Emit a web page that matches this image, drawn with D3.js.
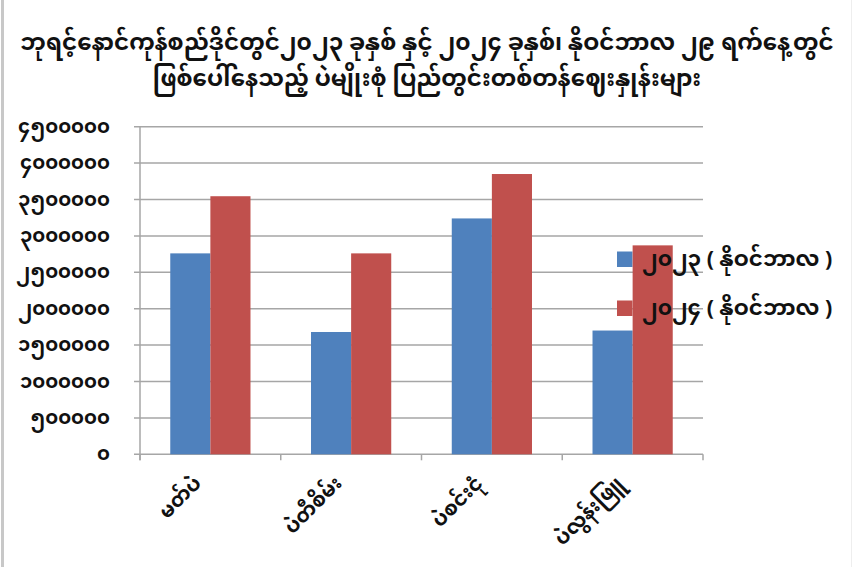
<!DOCTYPE html>
<html>
<head>
<meta charset="utf-8">
<title>ပဲမျိုးစုံ ဈေးနှုန်း</title>
<style>
  body { margin:0; background:#fff; }
  svg text { font-family: "Noto Sans Myanmar", "Padauk", "Myanmar Text", "Noto Sans", sans-serif; fill:#111; }
</style>
</head>
<body>
<div id="chart"></div>
<script src="https://d3js.org/d3.v7.min.js"></script>
<script>
// data
var titleLines = ["ဘုရင့်နောင်ကုန်စည်ဒိုင်တွင်၂၀၂၃ ခုနှစ် နှင့် ၂၀၂၄ ခုနှစ်၊ နိုဝင်ဘာလ ၂၉ ရက်နေ့တွင်",
                  "ဖြစ်ပေါ်နေသည့် ပဲမျိုးစုံ ပြည်တွင်းတစ်တန်ဈေးနှုန်းများ"];
var categories = ["မတ်ပဲ", "ပဲတီစိမ်း", "ပဲစင်းငုံ", "ပဲလွန်းဖြူ"];
var seriesNames = ["၂၀၂၃ ( နိုဝင်ဘာလ )", "၂၀၂၄ ( နိုဝင်ဘာလ )"];
var values2023 = [2760000, 1680000, 3240000, 1700000];
var values2024 = [3545000, 2760000, 3850000, 2870000];
var yTicks = [0, 500000, 1000000, 1500000, 2000000, 2500000, 3000000, 3500000, 4000000, 4500000];
var colors = ["#4F81BD", "#C0504D"];

var W = 853, H = 567;
var plotL = 140, plotR = 703, plotT = 126.7, plotB = 454.3;

var mmDigits = "၀၁၂၃၄၅၆၇၈၉";
function toMM(n) {
  return String(n).replace(/[0-9]/g, function(c){ return mmDigits[+c]; });
}

var svg = d3.select("#chart").append("svg")
  .attr("width", W).attr("height", H);

svg.append("rect").attr("x",0).attr("y",0).attr("width",W).attr("height",H).attr("fill","#fff");
// chart border remnants
svg.append("line").attr("x1",2.5).attr("x2",2.5).attr("y1",0).attr("y2",H)
  .attr("stroke","#c8c8c8").attr("stroke-width",3);
svg.append("line").attr("x1",851.5).attr("x2",851.5).attr("y1",0).attr("y2",H)
  .attr("stroke","#eeeeee").attr("stroke-width",1);

// title
svg.selectAll(".title").data(titleLines).enter().append("text")
  .attr("class","title")
  .attr("x", 427).attr("y", function(d,i){ return 50 + i*36; })
  .attr("text-anchor","middle")
  .attr("font-size", 23)
  .attr("font-weight","bold")
  .text(function(d){ return d; });

var y = d3.scaleLinear().domain([0, 4500000]).range([plotB, plotT]);
var x0 = d3.scaleBand().domain(categories).range([plotL, plotR]).padding(0);
var x1 = d3.scaleBand().domain([0,1]).range([x0.bandwidth()*0.215, x0.bandwidth()*0.785]).padding(0);

// gridlines
svg.append("g").selectAll("line").data(yTicks).enter().append("line")
  .attr("x1", plotL - 6).attr("x2", plotR)
  .attr("y1", function(d){ return y(d); }).attr("y2", function(d){ return y(d); })
  .attr("stroke", "#a6a6a6").attr("stroke-width", 1.5);

// y axis line
svg.append("line").attr("x1",plotL).attr("x2",plotL).attr("y1",plotT).attr("y2",plotB+6)
  .attr("stroke","#a6a6a6").attr("stroke-width",1.5);

// x axis ticks
var xTickPos = categories.map(function(c){ return x0(c); }).concat([plotR]);
svg.append("g").selectAll("line").data(xTickPos).enter().append("line")
  .attr("x1", function(d){ return d; }).attr("x2", function(d){ return d; })
  .attr("y1", plotB).attr("y2", plotB + 6)
  .attr("stroke","#a6a6a6").attr("stroke-width",1.5);

// y labels
svg.append("g").selectAll("text").data(yTicks).enter().append("text")
  .attr("x", 110).attr("y", function(d){ return y(d) + 6; })
  .attr("text-anchor","end").attr("font-size",19.5).attr("font-weight","bold")
  .text(function(d){ return toMM(d); });

// legend swatches sit beneath the bars, legend text above them (as in the original)
seriesNames.forEach(function(name, i){
  svg.append("rect").attr("x",617).attr("y",259 + i*49 - 7.5).attr("width",15.5).attr("height",15.5)
    .attr("fill", colors[i]);
});

// bars
var rows = categories.map(function(c,i){ return {cat:c, vals:[values2023[i], values2024[i]]}; });
var groups = svg.append("g").selectAll("g").data(rows).enter().append("g")
  .attr("transform", function(d){ return "translate(" + x0(d.cat) + ",0)"; });
groups.selectAll("rect").data(function(d){ return d.vals; }).enter().append("rect")
  .attr("x", function(d,i){ return x1(i); })
  .attr("width", x1.bandwidth())
  .attr("y", function(d){ return y(d); })
  .attr("height", function(d){ return plotB - y(d); })
  .attr("fill", function(d,i){ return colors[i]; });

svg.append("g").selectAll("text").data(seriesNames).enter().append("text")
  .attr("x",642).attr("y",function(d,i){ return 259 + i*49 + 7; })
  .attr("font-size",21.5).attr("font-weight","bold")
  .text(function(d){ return d; });

// x labels
svg.append("g").selectAll("text").data(categories).enter().append("text")
  .attr("transform", function(d){
    return "translate(" + (x0(d) + x0.bandwidth()/2 - 8) + "," + (plotB + 30) + ") rotate(-45)";
  })
  .attr("text-anchor","end").attr("font-size",20).attr("font-weight","bold")
  .text(function(d){ return d; });
</script>
</body>
</html>
